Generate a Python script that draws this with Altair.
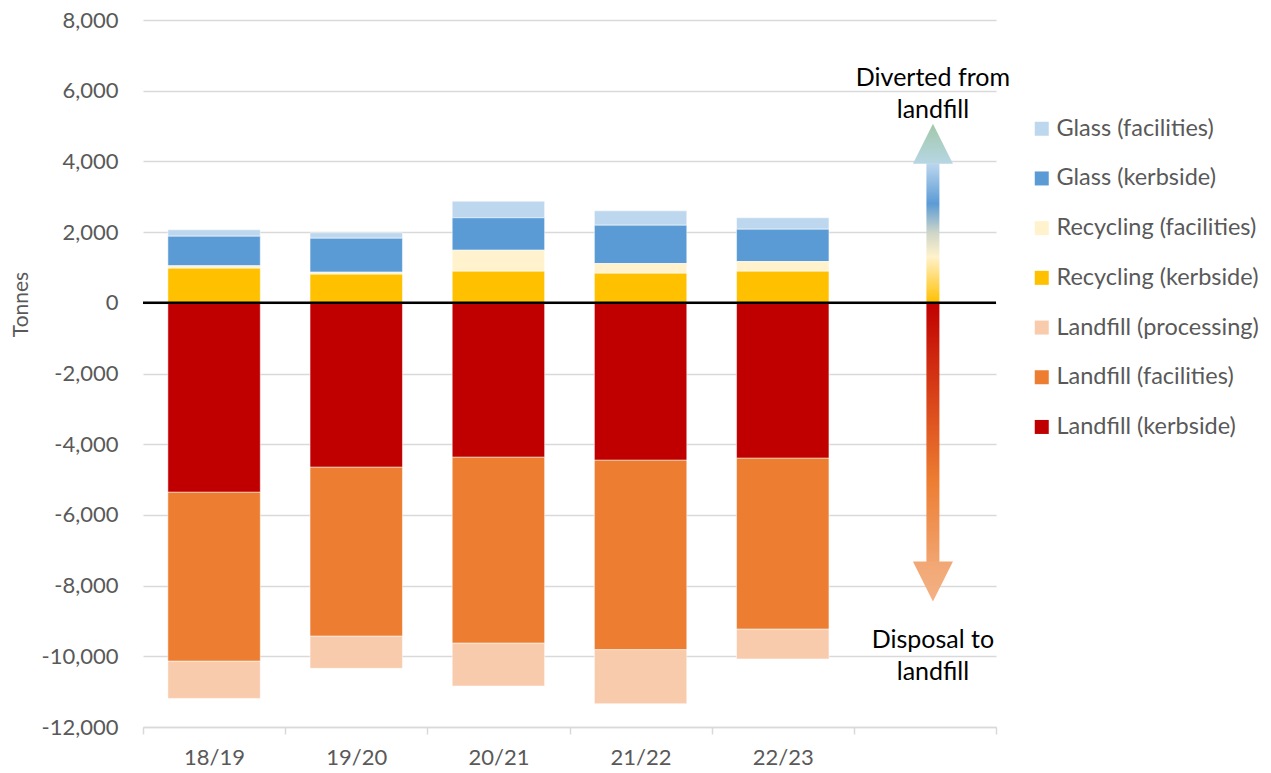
import altair as alt
import pandas as pd

# ---------------- data ----------------
years = ["18/19", "19/20", "20/21", "21/22", "22/23"]
glass_facilities = [181, 153, 469, 407, 323]
glass_kerbside = [837, 961, 917, 1083, 914]
recycling_facilities = [68, 57, 594, 275, 274]
recycling_kerbside = [979, 809, 894, 837, 894]
landfill_processing = [-1057, -915, -1218, -1530, -849]
landfill_facilities = [-4780, -4779, -5260, -5362, -4836]
landfill_kerbside = [-5354, -4646, -4363, -4448, -4391]

series_names = [
    "Glass (facilities)", "Glass (kerbside)", "Recycling (facilities)",
    "Recycling (kerbside)", "Landfill (processing)", "Landfill (facilities)",
    "Landfill (kerbside)",
]
series_values = [
    glass_facilities, glass_kerbside, recycling_facilities, recycling_kerbside,
    landfill_processing, landfill_facilities, landfill_kerbside,
]
series_colors = ["#BDD7EE", "#5B9BD5", "#FFF2CC", "#FFC000", "#F8CBAD", "#ED7D31", "#C00000"]
stack_order = [6, 5, 4, 3, 2, 1, 0]

arrow_column = " "
all_columns = years + [arrow_column]

# annotation arrow (in tonnes)
up_shaft = [0, 3950]
up_head = [4500]
down_shaft = [0, -7400]
down_head = [-7884]
notes = ["Diverted from\nlandfill", "Disposal to\nlandfill"]
note_positions = [6365, -9533]

rows = []
for name, vals, o in zip(series_names, series_values, stack_order):
    for yr, v in zip(years, vals):
        rows.append({"Year": yr, "Series": name, "Tonnes": v, "Order": o})
df = pd.DataFrame(rows)

FONT = "Lato"
GREY = "#595959"
GRID = "#D9D9D9"

x_enc = alt.X(
    "Year:N",
    sort=all_columns,
    scale=alt.Scale(domain=all_columns, paddingInner=0, paddingOuter=0),
    axis=alt.Axis(
        title=None, tickBand="extent", ticks=True, tickSize=7, tickColor=GRID,
        tickWidth=1.5, domainColor=GRID, domainWidth=1.5, labelFontSize=22,
        labelColor=GREY, labelFont=FONT, labelPadding=13, labelAngle=0, grid=False,
    ),
)

bars = alt.Chart(df).mark_bar(
    width=alt.RelativeBandSize(0.65), stroke="white", strokeWidth=1, strokeOpacity=0.5
).encode(
    x=x_enc,
    y=alt.Y(
        "Tonnes:Q",
        stack="zero",
        scale=alt.Scale(domain=[-12000, 8000], nice=False),
        axis=alt.Axis(
            values=list(range(-12000, 8001, 2000)),
            labelExpr="replace(format(datum.value, ','), '\u2212', '-')",
            grid=True, gridColor=GRID, gridWidth=1.3, domain=False, ticks=False,
            labelPadding=25, labelFontSize=22, labelColor=GREY, labelFont=FONT,
            title="Tonnes", titleFontSize=21, titleColor=GREY, titleFont=FONT,
            titleFontWeight="normal", titleX=-116, titleY=284,
            titleBaseline="alphabetic", titleAlign="center",
        ),
    ),
    color=alt.Color(
        "Series:N",
        scale=alt.Scale(domain=series_names, range=series_colors),
        legend=alt.Legend(
            orient="none", legendX=887, legendY=97, title=None,
            symbolType="square", symbolSize=196, symbolStrokeWidth=0,
            symbolOpacity=1, labelFontSize=23.5, labelColor=GREY, labelFont=FONT,
            rowPadding=24.7, labelOffset=3, padding=0, labelLimit=0,
        ),
    ),
    order=alt.Order("Order:Q"),
)

up_grad = alt.Gradient(
    gradient="linear", x1=0, x2=0, y1=1, y2=0,
    stops=[
        alt.GradientStop(color="#FFC000", offset=0),
        alt.GradientStop(color="#FFF2CC", offset=0.33),
        alt.GradientStop(color="#CFD6C8", offset=0.5),
        alt.GradientStop(color="#5B9BD5", offset=0.71),
        alt.GradientStop(color="#BDD7EE", offset=1),
    ],
)
up_head_grad = alt.Gradient(
    gradient="linear", x1=0, x2=0, y1=1, y2=0,
    stops=[
        alt.GradientStop(color="#B7D6E4", offset=0),
        alt.GradientStop(color="#A2C8A9", offset=1),
    ],
)
down_grad = alt.Gradient(
    gradient="linear", x1=0, x2=0, y1=0, y2=1,
    stops=[
        alt.GradientStop(color="#C00000", offset=0),
        alt.GradientStop(color="#DB4A1C", offset=0.4),
        alt.GradientStop(color="#ED7D31", offset=0.68),
        alt.GradientStop(color="#F1A571", offset=1),
    ],
)
down_head_grad = alt.Gradient(
    gradient="linear", x1=0, x2=0, y1=0, y2=1,
    stops=[
        alt.GradientStop(color="#F1A774", offset=0),
        alt.GradientStop(color="#F4B183", offset=1),
    ],
)

shafts_df_up = pd.DataFrame({"Year": [arrow_column], "Tonnes": [up_shaft[0]], "Tonnes2": [up_shaft[1]]})
shafts_df_down = pd.DataFrame({"Year": [arrow_column], "Tonnes": [down_shaft[0]], "Tonnes2": [down_shaft[1]]})

up_shaft_layer = alt.Chart(shafts_df_up).mark_bar(width=13, xOffset=8, fill=up_grad).encode(
    x=alt.X("Year:N"), y=alt.Y("Tonnes:Q"), y2="Tonnes2:Q"
)
down_shaft_layer = alt.Chart(shafts_df_down).mark_bar(width=13, xOffset=8, fill=down_grad).encode(
    x=alt.X("Year:N"), y=alt.Y("Tonnes:Q"), y2="Tonnes2:Q"
)
up_head_layer = alt.Chart(pd.DataFrame({"Year": [arrow_column], "Tonnes": up_head})).mark_point(
    shape="M0,-1L1,1L-1,1Z", size=1600, filled=True, fill=up_head_grad, opacity=1,
    strokeWidth=0, xOffset=8,
).encode(x=alt.X("Year:N"), y=alt.Y("Tonnes:Q"))
down_head_layer = alt.Chart(pd.DataFrame({"Year": [arrow_column], "Tonnes": down_head})).mark_point(
    shape="M-1,-1L1,-1L0,1Z", size=1600, filled=True, fill=down_head_grad, opacity=1,
    strokeWidth=0, xOffset=8,
).encode(x=alt.X("Year:N"), y=alt.Y("Tonnes:Q"))

zero_rule = alt.Chart(pd.DataFrame({"Tonnes": [0]})).mark_rule(
    color="black", strokeWidth=2.5
).encode(y=alt.Y("Tonnes:Q"))

notes_layer = alt.Chart(
    pd.DataFrame({"Year": [arrow_column] * 2, "Tonnes": note_positions, "Note": notes})
).mark_text(
    font=FONT, fontSize=25, color="black", align="center", baseline="middle",
    lineBreak="\n", lineHeight=32, xOffset=8,
).encode(x=alt.X("Year:N"), y=alt.Y("Tonnes:Q"), text="Note:N")

chart = alt.layer(
    bars, up_shaft_layer, down_shaft_layer, up_head_layer, down_head_layer,
    zero_rule, notes_layer,
).properties(
    width=853, height=707,
    autosize=alt.AutoSizeParams(type="none"),
    padding={"left": 143, "top": 20, "right": 275, "bottom": 46},
    background="white",
).configure_view(stroke=None)

chart.save("out.html", embed_options={"renderer": "svg", "actions": False})
